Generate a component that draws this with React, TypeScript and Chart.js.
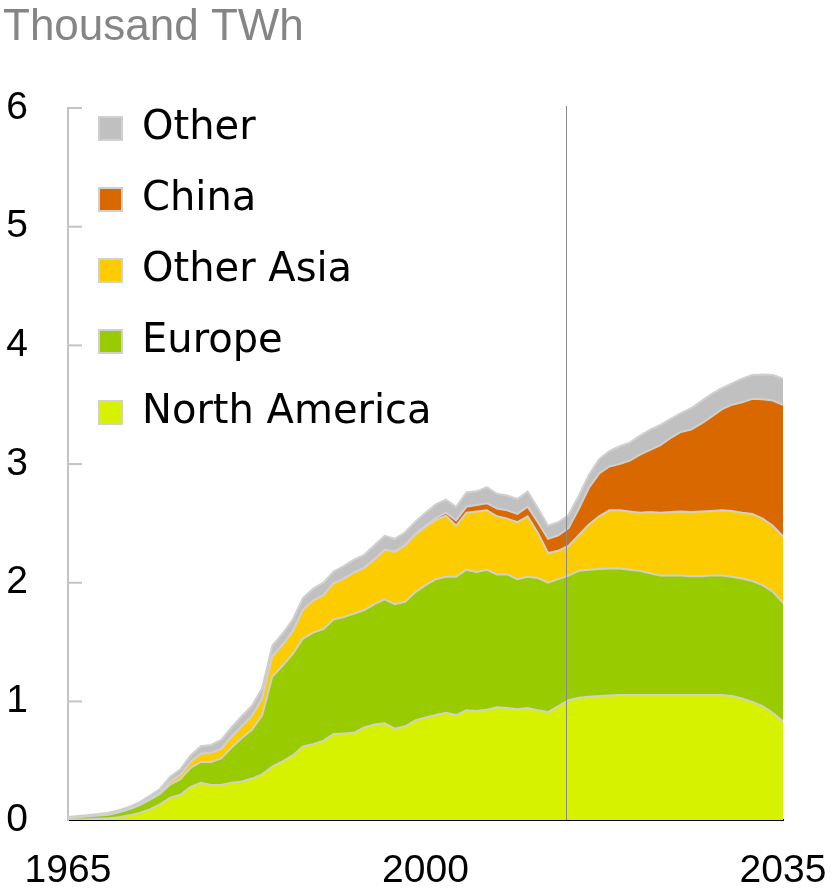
import React, { useEffect, useRef } from 'react';
import { Chart, registerables } from 'chart.js';

Chart.register(...registerables);

const YEARS = [
  1965, 1966, 1967, 1968, 1969, 1970, 1971, 1972, 1973, 1974,
  1975, 1976, 1977, 1978, 1979, 1980, 1981, 1982, 1983, 1984,
  1985, 1986, 1987, 1988, 1989, 1990, 1991, 1992, 1993, 1994,
  1995, 1996, 1997, 1998, 1999, 2000, 2001, 2002, 2003, 2004,
  2005, 2006, 2007, 2008, 2009, 2010, 2011, 2012, 2013, 2014,
  2015, 2016, 2017, 2018, 2019, 2020, 2021, 2022, 2023, 2024,
  2025, 2026, 2027, 2028, 2029, 2030, 2031, 2032, 2033, 2034, 2035,
];

const NORTH_AMERICA = [
  0.004, 0.006, 0.008, 0.012, 0.016, 0.025, 0.04, 0.06, 0.09, 0.133,
  0.19, 0.213, 0.28, 0.315, 0.295, 0.295, 0.315, 0.325, 0.35, 0.385,
  0.45, 0.495, 0.545, 0.62, 0.64, 0.67, 0.725, 0.73, 0.735, 0.78,
  0.805, 0.815, 0.77, 0.79, 0.84, 0.865, 0.885, 0.905, 0.885, 0.925,
  0.92, 0.93, 0.95, 0.945, 0.935, 0.945, 0.925, 0.91, 0.96, 1.01,
  1.03, 1.04, 1.045, 1.05, 1.055, 1.055, 1.055, 1.055, 1.055, 1.055,
  1.055, 1.055, 1.055, 1.055, 1.055, 1.045, 1.025, 0.995, 0.96, 0.905, 0.83,
];

const EUROPE = [
  0.014, 0.018, 0.022, 0.026, 0.03, 0.04, 0.05, 0.065, 0.08, 0.087,
  0.11, 0.132, 0.16, 0.175, 0.195, 0.225, 0.295, 0.365, 0.41, 0.495,
  0.76, 0.805, 0.855, 0.91, 0.94, 0.94, 0.965, 0.98, 1.005, 0.99,
  1.015, 1.045, 1.05, 1.05, 1.08, 1.115, 1.145, 1.145, 1.165, 1.185,
  1.17, 1.18, 1.12, 1.125, 1.095, 1.105, 1.115, 1.09, 1.07, 1.05,
  1.07, 1.07, 1.07, 1.07, 1.065, 1.055, 1.045, 1.025, 1.005, 1.005,
  1.005, 1.0, 1.0, 1.005, 1.005, 1.005, 1.01, 1.02, 1.02, 1.02, 1.0,
];

const OTHER_ASIA = [
  0, 0, 0, 0.001, 0.001, 0.002, 0.003, 0.005, 0.008, 0.012,
  0.025, 0.035, 0.05, 0.07, 0.075, 0.08, 0.09, 0.1, 0.115, 0.14,
  0.17, 0.175, 0.19, 0.24, 0.27, 0.285, 0.305, 0.325, 0.345, 0.355,
  0.375, 0.415, 0.44, 0.475, 0.485, 0.49, 0.5, 0.515, 0.43, 0.48,
  0.51, 0.5, 0.49, 0.47, 0.48, 0.51, 0.38, 0.25, 0.24, 0.25,
  0.3, 0.38, 0.445, 0.49, 0.49, 0.49, 0.49, 0.515, 0.53, 0.535,
  0.54, 0.54, 0.545, 0.545, 0.55, 0.555, 0.555, 0.565, 0.56, 0.555, 0.56,
];

const CHINA = [
  0, 0, 0, 0, 0, 0, 0, 0, 0, 0,
  0, 0, 0, 0, 0, 0, 0, 0, 0, 0,
  0, 0, 0, 0, 0, 0, 0, 0, 0, 0.002,
  0.003, 0.005, 0.005, 0.005, 0.007, 0.01, 0.015, 0.025, 0.045, 0.05,
  0.055, 0.06, 0.065, 0.07, 0.07, 0.08, 0.09, 0.12, 0.13, 0.15,
  0.22, 0.31, 0.36, 0.37, 0.39, 0.43, 0.49, 0.525, 0.57, 0.625,
  0.67, 0.695, 0.74, 0.795, 0.85, 0.895, 0.93, 0.97, 1.005, 1.055, 1.11,
];

const OTHER = [
  0.008, 0.01, 0.012, 0.013, 0.015, 0.016, 0.019, 0.022, 0.026, 0.03,
  0.04, 0.048, 0.055, 0.062, 0.068, 0.075, 0.08, 0.085, 0.088, 0.09,
  0.09, 0.095, 0.1, 0.1, 0.1, 0.105, 0.1, 0.105, 0.11, 0.108,
  0.117, 0.115, 0.105, 0.105, 0.103, 0.11, 0.115, 0.11, 0.115, 0.12,
  0.115, 0.135, 0.125, 0.125, 0.125, 0.13, 0.12, 0.11, 0.11, 0.11,
  0.11, 0.11, 0.12, 0.13, 0.15, 0.15, 0.16, 0.17, 0.17, 0.16,
  0.16, 0.18, 0.19, 0.19, 0.18, 0.18, 0.2, 0.2, 0.21, 0.215, 0.22,
];

const SERIES_NAMES = ['North America', 'Europe', 'Other Asia', 'China', 'Other'];
const SERIES_COLORS = ['#d7f200', '#99cc00', '#fccc00', '#d96800', '#c0c0c0'];
const X_TICKS = [1965, 2000, 2035];
const Y_TICKS = [0, 1, 2, 3, 4, 5, 6];
const DIVIDER_YEAR = 2013.8;
const TITLE = 'Thousand TWh';

const W = 837;
const H = 893;
const TICK_FONT = 'Liberation Sans, Arial, Helvetica, sans-serif';
const LEGEND_FONT = 'DejaVu Sans, Verdana, sans-serif';
const LEGEND_PAD = 31;

export default function App() {
  const ref = useRef<HTMLCanvasElement>(null);

  useEffect(() => {
    const canvas = ref.current;
    if (!canvas) return;
    const seriesValues = [NORTH_AMERICA, EUROPE, OTHER_ASIA, CHINA, OTHER];
    const datasets = seriesValues.map((vals, i) => ({
      label: SERIES_NAMES[i],
      data: YEARS.map((yr, j) => ({ x: yr, y: vals[j] })),
      backgroundColor: SERIES_COLORS[i],
      borderColor: '#d0d0d0',
      borderWidth: 2,
      pointRadius: 0,
      tension: 0,
      fill: i === 0 ? 'origin' : '-1',
    }));

    const extras = {
      id: 'extras',
      afterLayout(chart: any) {
        const lg = chart.legend;
        if (lg) {
          lg.top = chart.chartArea.top + 0.5 - LEGEND_PAD;
        }
      },
      afterDatasetsDraw(chart: any) {
        const { ctx, chartArea, scales } = chart;
        const x = Math.round(scales.x.getPixelForValue(DIVIDER_YEAR)) + 0.5;
        ctx.save();
        ctx.strokeStyle = '#8a8a8a';
        ctx.lineWidth = 1;
        ctx.beginPath();
        ctx.moveTo(x, chartArea.top - 2);
        ctx.lineTo(x, chartArea.bottom);
        ctx.stroke();
        ctx.strokeStyle = '#c4c4c4';
        ctx.lineWidth = 2;
        for (const v of Y_TICKS) {
          if (v === 0) continue;
          const y = scales.y.getPixelForValue(v);
          ctx.beginPath();
          ctx.moveTo(chartArea.left, y);
          ctx.lineTo(chartArea.left + 14, y);
          ctx.stroke();
        }
        ctx.restore();
      },
    };

    const chart = new Chart(canvas, {
      type: 'line',
      data: { datasets: datasets as any },
      options: {
        responsive: false,
        animation: false,
        layout: { padding: { left: 3, right: 54, top: 0, bottom: 0 } },
        plugins: {
          title: {
            display: true,
            text: TITLE,
            align: 'start',
            color: '#858585',
            font: { family: TICK_FONT, size: 44, weight: 'normal', lineHeight: 1 },
            padding: { top: 6, bottom: 58 },
          },
          legend: {
            position: 'chartArea',
            align: 'start',
            reverse: true,
            labels: {
              boxWidth: 23,
              boxHeight: 23,
              padding: LEGEND_PAD,
              color: '#000',
              font: { family: LEGEND_FONT, size: 40 },
            },
          },
          tooltip: { enabled: false },
        },
        scales: {
          x: {
            type: 'linear',
            min: 1965,
            max: 2035,
            z: 1,
            grid: { display: false, drawTicks: true, tickLength: 30 },
            border: { display: true, color: '#000', width: 2 },
            afterBuildTicks: (s: any) => {
              s.ticks = X_TICKS.map((v) => ({ value: v }));
            },
            ticks: {
              autoSkip: false,
              maxRotation: 0,
              padding: 0,
              color: '#000',
              font: { family: TICK_FONT, size: 39, lineHeight: 1.1 },
              callback: (v: any) => String(v),
            },
          },
          y: {
            stacked: true,
            min: 0,
            max: 6,
            z: 1,
            grid: { display: false, drawTicks: false },
            border: { display: true, color: '#c4c4c4', width: 2 },
            afterBuildTicks: (s: any) => {
              s.ticks = Y_TICKS.map((v) => ({ value: v }));
            },
            afterFit: (s: any) => {
              s.width = 65;
            },
            ticks: {
              padding: 40,
              color: '#000',
              font: { family: TICK_FONT, size: 39, lineHeight: 1.1 },
              callback: (v: any) => String(v),
            },
          },
        },
      } as any,
      plugins: [extras],
    });

    return () => chart.destroy();
  }, []);

  return (
    <div style={{ position: 'absolute', left: 0, top: 0, width: W, height: H, background: '#fff' }}>
      <canvas ref={ref} width={W} height={H} style={{ display: 'block' }} />
    </div>
  );
}
